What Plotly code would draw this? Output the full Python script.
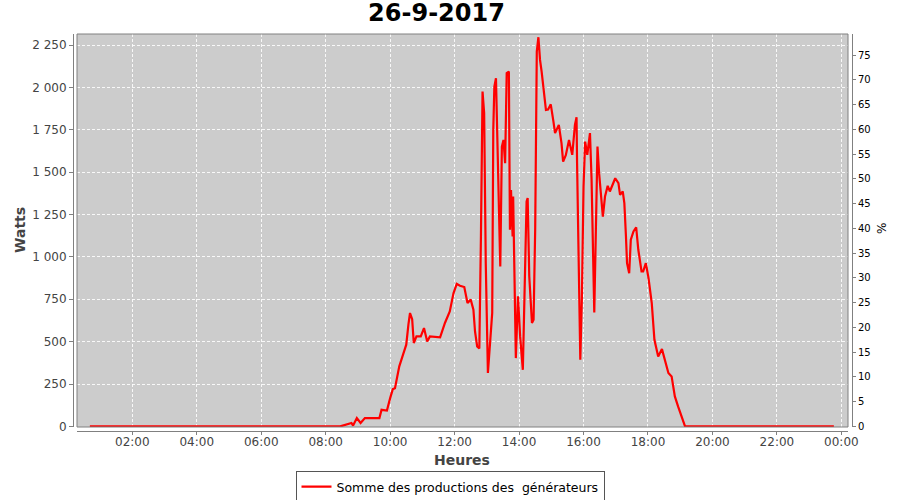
import plotly.graph_objects as go

DAY = "2017-09-26"
NEXT_DAY = "2017-09-27"

times = [
    "00:41", "08:27", "08:48", "08:51", "08:58", "09:05", "09:13", "09:40", "09:44", "09:54",
    "10:00", "10:05", "10:09", "10:17", "10:24", "10:30", "10:34", "10:37", "10:41", "10:44",
    "10:49", "10:57", "11:03", "11:09", "11:14", "11:33", "11:42", "11:51", "11:58", "12:04",
    "12:10", "12:18", "12:24", "12:30", "12:35", "12:38", "12:42", "12:46", "12:49", "12:52",
    "12:55", "12:58", "13:02", "13:06", "13:10", "13:12", "13:14", "13:17", "13:20", "13:25",
    "13:28", "13:31", "13:34", "13:37", "13:41", "13:43", "13:45", "13:48", "13:49", "13:54",
    "13:58", "14:02", "14:07", "14:11", "14:14", "14:16", "14:19", "14:24", "14:27", "14:30",
    "14:33", "14:36", "14:39", "14:42", "14:50", "14:54", "14:59", "15:04", "15:07", "15:14",
    "15:19", "15:22", "15:27", "15:33", "15:39", "15:44", "15:47", "15:48", "15:52", "15:54",
    "15:57", "16:00", "16:03", "16:07", "16:12", "16:15", "16:20", "16:23", "16:26", "16:29",
    "16:33", "16:36", "16:40", "16:45", "16:49", "16:54", "16:59", "17:05", "17:08", "17:13",
    "17:16", "17:19", "17:21", "17:25", "17:28", "17:33", "17:38", "17:42", "17:48", "17:51",
    "17:56", "18:01", "18:07", "18:12", "18:19", "18:26", "18:32", "18:38", "18:44", "18:50",
    "18:56", "19:03", "19:09", "23:46",
]
watts = [
    0, 0, 20, 5, 49, 20, 49, 49, 98, 94,
    167, 220, 225, 354, 423, 482, 600, 669, 633, 492,
    531, 531, 580, 501, 531, 525, 610, 678, 787, 841,
    830, 822, 728, 748, 688, 560, 472, 460, 1120, 1975,
    1848, 963, 315, 511, 669, 1750, 2005, 2054, 1553, 943,
    1651, 1690, 1553, 2084, 2093, 1160, 1395, 1120, 1356, 403,
    767, 531, 334, 963, 1327, 1347, 884, 610, 629, 1160,
    2211, 2296, 2162, 2093, 1867, 1870, 1900, 1798, 1730, 1779,
    1671, 1562, 1600, 1690, 1602, 1779, 1824, 1553, 767, 393,
    767, 1415, 1680, 1602, 1730, 1455, 672, 1160, 1651, 1494,
    1317, 1238, 1356, 1419, 1386, 1431, 1464, 1435, 1366, 1386,
    1317, 1120, 963, 904, 1101, 1150, 1175, 1042, 914, 914,
    963, 875, 728, 511, 413, 456, 393, 315, 295, 177,
    118, 59, 0, 0,
]

series_name = "Somme des productions des  générateurs"
title_text = "26-9-2017"
x_title = "Heures"
y_title = "Watts"
y2_title = "%"

x_range = [DAY + " 00:17:02", NEXT_DAY + " 00:12:21"]
y_range = [-3.5, 2315]
y2_range = [-0.12, 79.24]

x_vals = [DAY + " " + t for t in times]

FONT = "DejaVu Sans"
AXIS_GRAY = "#808080"
LABEL_GRAY = "#444444"

W, H = 900, 500
AX_L, AX_R, AX_T, AX_B = 73, 852, 34, 431      # axis lines (page px)
PL_L, PL_R, PL_B = 77, 848, 427                  # plot area edges (page px)
L = AX_L
R = W - AX_R
T = AX_T
B = H - AX_B
pw = AX_R - AX_L
ph = AX_B - AX_T


def px(xp):
    return (xp - AX_L) / pw


def py(yp):
    return (AX_B - yp) / ph


fig = go.Figure()
fig.add_trace(go.Scatter(
    x=x_vals, y=watts, mode="lines", name=series_name,
    line=dict(color="#ff0000", width=2.2),
    yaxis="y",
))
# empty percentage series on the right axis
fig.add_trace(go.Scatter(x=[], y=[], mode="lines", yaxis="y2", showlegend=False,
                         hoverinfo="skip"))

fig.update_layout(
    width=W, height=H,
    margin=dict(l=L, r=R, t=T, b=B, autoexpand=False),
    paper_bgcolor="white",
    plot_bgcolor="#cccccc",
    separators=", ",
    font=dict(family=FONT, size=12, color=LABEL_GRAY),
    title=dict(text=title_text, x=436.5 / W, xanchor="center", y=1 - 13 / H, yanchor="middle",
               font=dict(family=FONT, size=24, color="#000000", weight="bold")),
    xaxis=dict(
        type="date", range=x_range, domain=[px(PL_L), px(PL_R)],
        anchor="free", position=0, automargin=False,
        tick0=DAY + " 00:00", dtick=7200000, tickformat="%H:%M",
        showline=True, linecolor=AXIS_GRAY, linewidth=1,
        ticks="outside", ticklen=3, tickcolor=AXIS_GRAY,
        ticklabelstandoff=-3,
        showgrid=True, gridcolor="rgba(255,255,255,0.85)", gridwidth=1, griddash="3px,2px",
        zeroline=False,
        tickfont=dict(family=FONT, size=12, color=LABEL_GRAY),
    ),
    yaxis=dict(
        range=y_range, domain=[py(PL_B), 1],
        anchor="free", position=0, automargin=False,
        tick0=0, dtick=250, separatethousands=True,
        showline=True, linecolor=AXIS_GRAY, linewidth=1,
        ticks="outside", ticklen=4, tickcolor=AXIS_GRAY,
        showgrid=True, gridcolor="rgba(255,255,255,0.85)", gridwidth=1, griddash="3px,2px",
        zeroline=False,
        tickfont=dict(family=FONT, size=12, color=LABEL_GRAY),
    ),
    yaxis2=dict(
        range=y2_range, overlaying="y", side="right",
        anchor="free", position=1, automargin=False,
        tick0=0, dtick=5,
        showline=True, linecolor=AXIS_GRAY, linewidth=1,
        ticks="outside", ticklen=3, tickcolor=AXIS_GRAY,
        showgrid=False, zeroline=False,
        tickfont=dict(family=FONT, size=10, color="#000000"),
    ),
    legend=dict(
        orientation="h", x=px(450), xanchor="center",
        y=py(487), yanchor="middle",
        bgcolor="white", bordercolor="#555555", borderwidth=1,
        font=dict(family=FONT, size=12.5, color="#000000"),
        itemwidth=30,
    ),
    showlegend=True,
)

fig.add_shape(type="rect", xref="x domain", yref="y domain", x0=0, x1=1, y0=0, y1=1,
              line=dict(color=AXIS_GRAY, width=1), layer="above")

fig.add_annotation(text=y_title, xref="paper", yref="paper",
                   x=px(20), y=py(230), textangle=-90, showarrow=False,
                   font=dict(family=FONT, size=14, color=LABEL_GRAY, weight="bold"),
                   xanchor="center", yanchor="middle")
fig.add_annotation(text=x_title, xref="paper", yref="paper",
                   x=px(462), y=py(460), showarrow=False,
                   font=dict(family=FONT, size=14, color=LABEL_GRAY, weight="bold"),
                   xanchor="center", yanchor="middle")
fig.add_annotation(text=y2_title, xref="paper", yref="paper",
                   x=px(882), y=py(229), textangle=-90, showarrow=False,
                   font=dict(family=FONT, size=12, color="#000000"),
                   xanchor="center", yanchor="middle")

fig.write_html("out.html", config={"displayModeBar": False},
               post_script="document.body.style.margin='0';")
